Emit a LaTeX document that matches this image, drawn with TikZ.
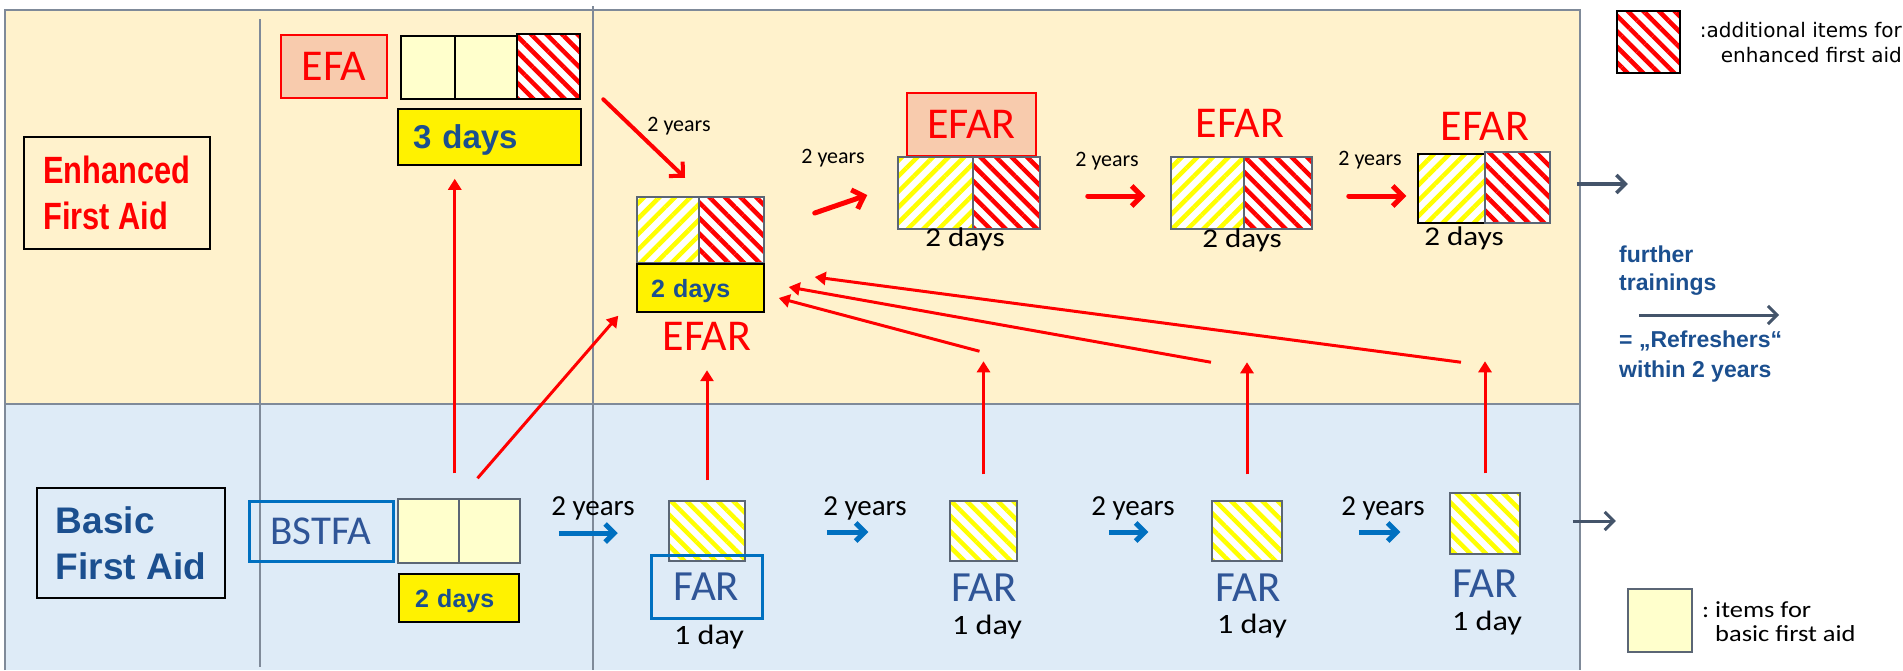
\documentclass[tikz,border=0pt]{standalone}
\usepackage{fontspec}
\usepackage{tikz}
\usetikzlibrary{arrows.meta,patterns.meta}
\setmainfont{Carlito}
\newfontfamily\headfont{Liberation Sans}
\newfontfamily\headnarrow[FakeStretch=0.81]{Liberation Sans}
\newfontfamily\daysfont[FakeStretch=1.15]{Carlito}
\newfontfamily\notefont{DejaVu Sans}
\definecolor{panelA}{HTML}{FFF2CC}
\definecolor{panelB}{HTML}{DEEBF7}
\definecolor{frame}{HTML}{7F8A99}
\definecolor{lightyel}{HTML}{FFFFCC}
\definecolor{salmon}{HTML}{F8CBAD}
\definecolor{navy}{HTML}{1B4F8F}
\definecolor{steel}{HTML}{2F5597}
\definecolor{azure}{HTML}{0070C0}
\definecolor{slate}{HTML}{44546A}
\definecolor{boxgray}{HTML}{5B6675}

\begin{document}
\begin{tikzpicture}[x=1pt,y=1pt]
            \tikzstyle{every node}+=[inner sep=0pt]
            \tikzstyle{cell}=[draw=black, line width=1.5pt, fill=lightyel]
            \tikzstyle{redcell}=[draw=boxgray, line width=1.5pt, preaction={fill=white}, pattern={Lines[angle=-45,distance=11pt,line width=4.5pt]}, pattern color=red]
            \tikzstyle{yelcell}=[draw=boxgray, line width=1.5pt, preaction={fill=white}, pattern={Lines[angle=45,distance=11pt,line width=4.5pt]}, pattern color=yellow]
            \tikzstyle{yelsq}=[draw=boxgray, line width=1.5pt, preaction={fill=white}, pattern={Lines[angle=-45,distance=11pt,line width=4.5pt]}, pattern color=yellow]
            \tikzstyle{daybox}=[draw=black, line width=1.5pt, fill=yellow, text=navy, align=left, text depth=0pt, font=\headfont\bfseries\fontsize{25}{30}\selectfont]
            \tikzstyle{titlebox}=[draw=black, line width=1.5pt, align=left, font=\headfont\bfseries\fontsize{37}{46}\selectfont]
            \tikzstyle{redname}=[draw=red, line width=2.5pt, fill=salmon, text=red, font=\fontsize{44}{50}\selectfont]
            \tikzstyle{bluename}=[draw=azure, line width=3pt, text=steel, font=\fontsize{43}{50}\selectfont]
            \tikzstyle{redlbl}=[anchor=base, text=red, font=\fontsize{44}{50}\selectfont]
            \tikzstyle{bluelbl}=[anchor=base, text=steel, font=\fontsize{43}{50}\selectfont]
            \tikzstyle{years}=[anchor=base, font=\fontsize{22}{26}\selectfont]
            \tikzstyle{yearsb}=[anchor=base, font=\fontsize{29}{34}\selectfont]
            \tikzstyle{days}=[anchor=base, font=\daysfont\fontsize{27}{32}\selectfont]
            \tikzstyle{upgrade}=[red, line width=3pt, -{Triangle[length=11pt,width=13pt]}]
            \tikzstyle{renew}=[red, line width=5pt, line cap=round, -{Straight Barb[length=10pt,width=20pt]}]
            \tikzstyle{basicrenew}=[azure, line width=5pt, -{Straight Barb[length=9pt,width=18pt]}]
            \tikzstyle{onward}=[slate, line width=3.5pt, -{Straight Barb[length=9pt,width=18pt]}]
            \useasboundingbox (0,0) rectangle (1903,-670);
            \fill [panelA] (5,-10) rectangle (1580,-404);
            \fill [panelB] (5,-404) rectangle (1580,-670);
            \draw [frame, line width=1.5pt] (5,-670) -- (5,-10) -- (1580,-10) -- (1580,-670);
            \draw [frame, line width=1.5pt] (5,-404) -- (1580,-404);
            \draw [frame, line width=1.5pt] (260,-19) -- (260,-667);
            \draw [frame, line width=1.5pt] (593,-6) -- (593,-670);
            % enhanced first aid row
            \node (enh) [titlebox, text=red, minimum width=186, minimum height=112, font=\headnarrow\bfseries\fontsize{38}{46}\selectfont] at (117,-193) {Enhanced\\First Aid};
            \node (efa) [redname, minimum width=106, minimum height=63] at (334,-66.5) {EFA};
            \node (ea1) [cell, minimum width=54, minimum height=63] at (428,-67.5) {};
            \node (ea2) [cell, minimum width=62, minimum height=63] at (486,-67.5) {};
            \node (ea3) [redcell, draw=black, minimum width=63, minimum height=65] at (548.5,-66.5) {};
            \node (d3) [daybox, minimum height=56, inner xsep=15pt, text width=153pt, font=\headfont\bfseries\fontsize{33}{38}\selectfont] at (489.5,-137) {3 days};
            \node (ya) [years] at (679,-131) {2 years};
            \node (e1y) [yelcell, minimum width=62, minimum height=66] at (668,-230) {};
            \node (e1r) [redcell, minimum width=65, minimum height=66] at (731.5,-230) {};
            \node (d2a) [daybox, minimum height=48, inner xsep=14pt, text width=99pt] at (700.5,-288) {2 days};
            \node (e1lbl) [redlbl] at (707,-350) {EFAR};
            \node (yb) [years] at (833,-163) {2 years};
            \node (efar2) [redname, minimum width=129, minimum height=63] at (971.5,-124.5) {EFAR};
            \node (e2y) [yelcell, minimum width=75, minimum height=72] at (935.5,-193) {};
            \node (e2r) [redcell, minimum width=67, minimum height=72] at (1006.5,-193) {};
            \node (e2d) [days] at (965,-246) {2 days};
            \node (yc) [years] at (1107,-166) {2 years};
            \node (e3lbl) [redlbl] at (1240,-137) {EFAR};
            \node (e3y) [yelcell, minimum width=73, minimum height=72] at (1207.5,-193) {};
            \node (e3r) [redcell, minimum width=68, minimum height=72] at (1278,-193) {};
            \node (e3d) [days] at (1242,-247) {2 days};
            \node (yd) [years] at (1370,-165) {2 years};
            \node (e4lbl) [redlbl] at (1485,-140) {EFAR};
            \node (e4y) [yelcell, draw=black, minimum width=67, minimum height=69] at (1451.5,-188.5) {};
            \node (e4r) [redcell, minimum width=65, minimum height=71] at (1517.5,-187.5) {};
            \node (e4d) [days] at (1464,-245) {2 days};
            % basic first aid row
            \node (basic) [titlebox, text=navy, minimum width=188, minimum height=110] at (131,-543) {Basic\\First Aid};
            \node (bstfa) [bluename, minimum width=144, minimum height=60, font=\fontsize{41}{48}\selectfont] at (321,-531) {BSTFA};
            \node (bs1) [cell, draw=boxgray, minimum width=61, minimum height=64] at (428.5,-531) {};
            \node (bs2) [cell, draw=boxgray, minimum width=61, minimum height=64] at (489.5,-531) {};
            \node (d2b) [daybox, minimum height=48, inner xsep=16pt, text width=88pt] at (459,-598) {2 days};
            \node (yb1) [yearsb] at (593,-515) {2 years};
            \node (f1sq) [yelsq, minimum width=76, minimum height=60] at (707,-531) {};
            \node (f1box) [bluename, minimum width=111, minimum height=63] at (706.5,-586.5) {FAR};
            \node (f1d) [days, font=\daysfont\fontsize{28}{32}\selectfont] at (709,-644) {1 day};
            \node (yb2) [yearsb] at (865,-515) {2 years};
            \node (f2sq) [yelsq, minimum width=67, minimum height=60] at (983.5,-531) {};
            \node (f2lbl) [bluelbl] at (984,-601) {FAR};
            \node (f2d) [days, font=\daysfont\fontsize{28}{32}\selectfont] at (987,-634) {1 day};
            \node (yb3) [yearsb] at (1133,-515) {2 years};
            \node (f3sq) [yelsq, minimum width=70, minimum height=60] at (1247,-531) {};
            \node (f3lbl) [bluelbl] at (1248,-601) {FAR};
            \node (f3d) [days, font=\daysfont\fontsize{28}{32}\selectfont] at (1252,-633) {1 day};
            \node (yb4) [yearsb] at (1383,-515) {2 years};
            \node (f4sq) [yelsq, minimum width=70, minimum height=61] at (1485,-523.5) {};
            \node (f4lbl) [bluelbl] at (1485,-597) {FAR};
            \node (f4d) [days, font=\daysfont\fontsize{28}{32}\selectfont] at (1487,-630) {1 day};
            % legend
            \node (legred) [redcell, draw=black, minimum width=63, minimum height=62] at (1648.5,-42) {};
            \node (legredtxt) [anchor=base east, align=right, font=\notefont\fontsize{20}{25}\selectfont] at (1902,-62) {:additional items for\\enhanced first aid};
            \node (further) [anchor=base west, align=left, text=navy, font=\headfont\bfseries\fontsize{23}{28}\selectfont] at (1619,-290) {further\\trainings};
            \node (refresh) [anchor=base west, align=left, text=navy, font=\headfont\bfseries\fontsize{23}{30}\selectfont] at (1619,-377) {= „Refreshers“\\within 2 years};
            \node (legyel) [cell, draw=boxgray, minimum width=64, minimum height=63] at (1660,-620.5) {};
            \node (legyeltxt) [anchor=base west, align=left, font=\daysfont\fontsize{23}{24}\selectfont] at (1715,-641) {\llap{:\ }items for\\basic first aid};
            % arrows
            \draw [renew, line width=4pt] ([shift={(21,2)}]ea3.south east) -- ([shift={(17,17)}]e1y.north);
            \draw [renew] ([shift={(50,17)}]e1r.east) -- ([shift={(-30,-2)}]e2y.west);
            \draw [renew] ([shift={(47,-3)}]e2r.east) -- ([shift={(-25,-3)}]e3y.west);
            \draw [renew] ([shift={(36,-3)}]e3r.east) -- ([shift={(-11,-7.5)}]e4y.west);
            \draw [onward] ([shift={(26,3.5)}]e4r.east) -- ([shift={(77,3.5)}]e4r.east);
            \draw [basicrenew] ([shift={(38,-2)}]bs2.east) -- ([shift={(97,-2)}]bs2.east);
            \draw [basicrenew] ([shift={(81,-1)}]f1sq.east) -- ([shift={(-81,-1)}]f2sq.west);
            \draw [basicrenew] ([shift={(91,-1)}]f2sq.east) -- ([shift={(-63,-1)}]f3sq.west);
            \draw [basicrenew] ([shift={(76,-1)}]f3sq.east) -- ([shift={(-49,-8.5)}]f4sq.west);
            \draw [onward, line width=3pt] ([shift={(52,2.5)}]f4sq.east) -- ([shift={(95,2.5)}]f4sq.east);
            \draw [onward, line width=3pt] ([shift={(20,-25)}]further.base west) -- ([shift={(160,-25)}]further.base west);
            \draw [upgrade] ([shift={(-5,25)}]bs1.north east) -- ([shift={(-5,-13)}]bs1.north east |- d3.south);
            \draw [upgrade] ([shift={(-12,20)}]bs2.north) -- ([shift={(-18,-3)}]d2a.south west);
            \draw [upgrade] ([yshift=20]f1sq.north) -- ([yshift=-20]f1sq.north |- e1lbl.south);
            \coordinate (u2) at ([yshift=139]f2sq.north);
            \coordinate (u3) at ([yshift=138]f3sq.north);
            \coordinate (u4) at ([yshift=131]f4sq.north);
            \draw [upgrade] ([yshift=26]f2sq.north) -- (u2);
            \draw [upgrade] ([yshift=26]f3sq.north) -- (u3);
            \draw [upgrade] ([yshift=19]f4sq.north) -- (u4);
            \draw [upgrade] ([shift={(-4,10)}]u2) -- ([shift={(14,-10)}]d2a.east);
            \draw [upgrade] ([shift={(-36,0)}]u3) -- ([shift={(24,1)}]d2a.east);
            \draw [upgrade] ([shift={(-24,-1)}]u4) -- ([shift={(50,11)}]d2a.east);
\end{tikzpicture}
\end{document}
